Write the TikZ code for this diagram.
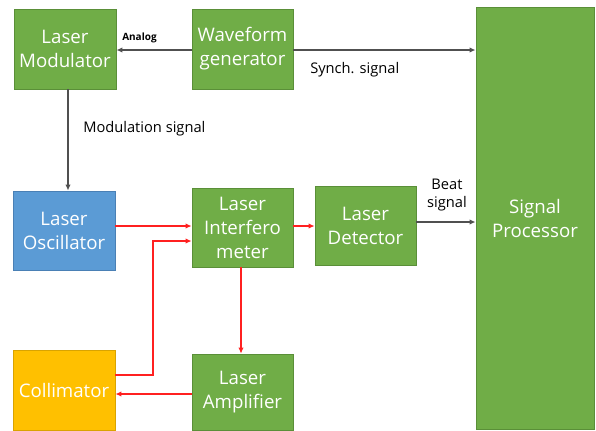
\documentclass[tikz,border=0pt]{standalone}
\usepackage{fontspec}
\setmainfont{Open Sans}
\usetikzlibrary{arrows.meta}
\definecolor{gfill}{HTML}{70AD47}
\definecolor{gdraw}{HTML}{5A8F38}
\definecolor{bfill}{HTML}{5B9BD5}
\definecolor{bdraw}{HTML}{4A80B5}
\definecolor{ofill}{HTML}{FFC000}
\definecolor{odraw}{HTML}{D9A300}
\definecolor{lred}{HTML}{FF2020}
\definecolor{lgray}{HTML}{505050}
\begin{document}
\begin{tikzpicture}[x=0.75pt,y=-0.75pt,
  box/.style={draw=gdraw,fill=gfill,line width=0.6pt,text=white,align=center,font=\fontsize{14}{18}\selectfont,inner sep=0pt},
  redarr/.style={draw=lred,line width=0.8pt,-{Latex[length=4.5pt,width=4pt]}},
  blkarr/.style={draw=lgray,line width=1pt,-{Latex[length=4.5pt,width=4pt]}},
  lbl/.style={font=\fontsize{11}{13}\selectfont,text=black,inner sep=0pt,align=center}]
\useasboundingbox (0,0) rectangle (596,430);
\fill[white] (0,0) rectangle (596,430);
% boxes
\node[box,minimum width=102*0.75pt,minimum height=80*0.75pt] (mod) at (65,49) {Laser\\Modulator};
\node[box,minimum width=101*0.75pt,minimum height=80*0.75pt] (wav) at (242.5,49) {Waveform\\generator};
\node[box,minimum width=118*0.75pt,minimum height=422*0.75pt] (sp) at (535,218) {Signal\\Processor};
\node[box,draw=bdraw,fill=bfill,minimum width=102*0.75pt,minimum height=79*0.75pt] (osc) at (64,230.5) {Laser\\Oscillator};
\node[box,minimum width=101*0.75pt,minimum height=79*0.75pt] (int) at (242.5,227.5) {Laser\\Interfero\\meter};
\node[box,minimum width=101*0.75pt,minimum height=79*0.75pt] (det) at (365.5,225.5) {Laser\\Detector};
\node[box,draw=odraw,fill=ofill,minimum width=102*0.75pt,minimum height=80*0.75pt] (col) at (64,390) {Collimator};
\node[box,minimum width=101*0.75pt,minimum height=76*0.75pt] (amp) at (242.5,392) {Laser\\Amplifier};
% black connectors
\draw[blkarr] (wav.west |- 0,50) -- (mod.east |- 0,50);
\draw[blkarr] (wav.east |- 0,50) -- (sp.west |- 0,50);
\draw[blkarr] (mod.south -| 68,0) -- (osc.north -| 68,0);
\draw[blkarr] (det.east |- 0,222) -- (sp.west |- 0,222);
% red connectors
\draw[redarr] (osc.east |- 0,226) -- (int.west |- 0,226);
\draw[redarr] (int.east |- 0,226) -- (det.west |- 0,226);
\draw[redarr] (col.east |- 0,375) -- (153,375) -- (153,241) -- (int.west |- 0,241);
\draw[redarr] (int.south -| 241,0) -- (amp.north -| 241,0);
\draw[redarr] (amp.west |- 0,394) -- (col.east |- 0,394);
% labels
\node[font=\fontsize{7.5}{8}\selectfont\bfseries,inner sep=0pt,anchor=west] (an) at (122,38) {Analog};
\node[lbl,anchor=west] (ms) at (83,129) {Modulation signal};
\node[lbl,anchor=west] (ss) at (310,70) {Synch. signal};
\node[lbl] (bs) at (447,195) {Beat\\signal};
\end{tikzpicture}
\end{document}
